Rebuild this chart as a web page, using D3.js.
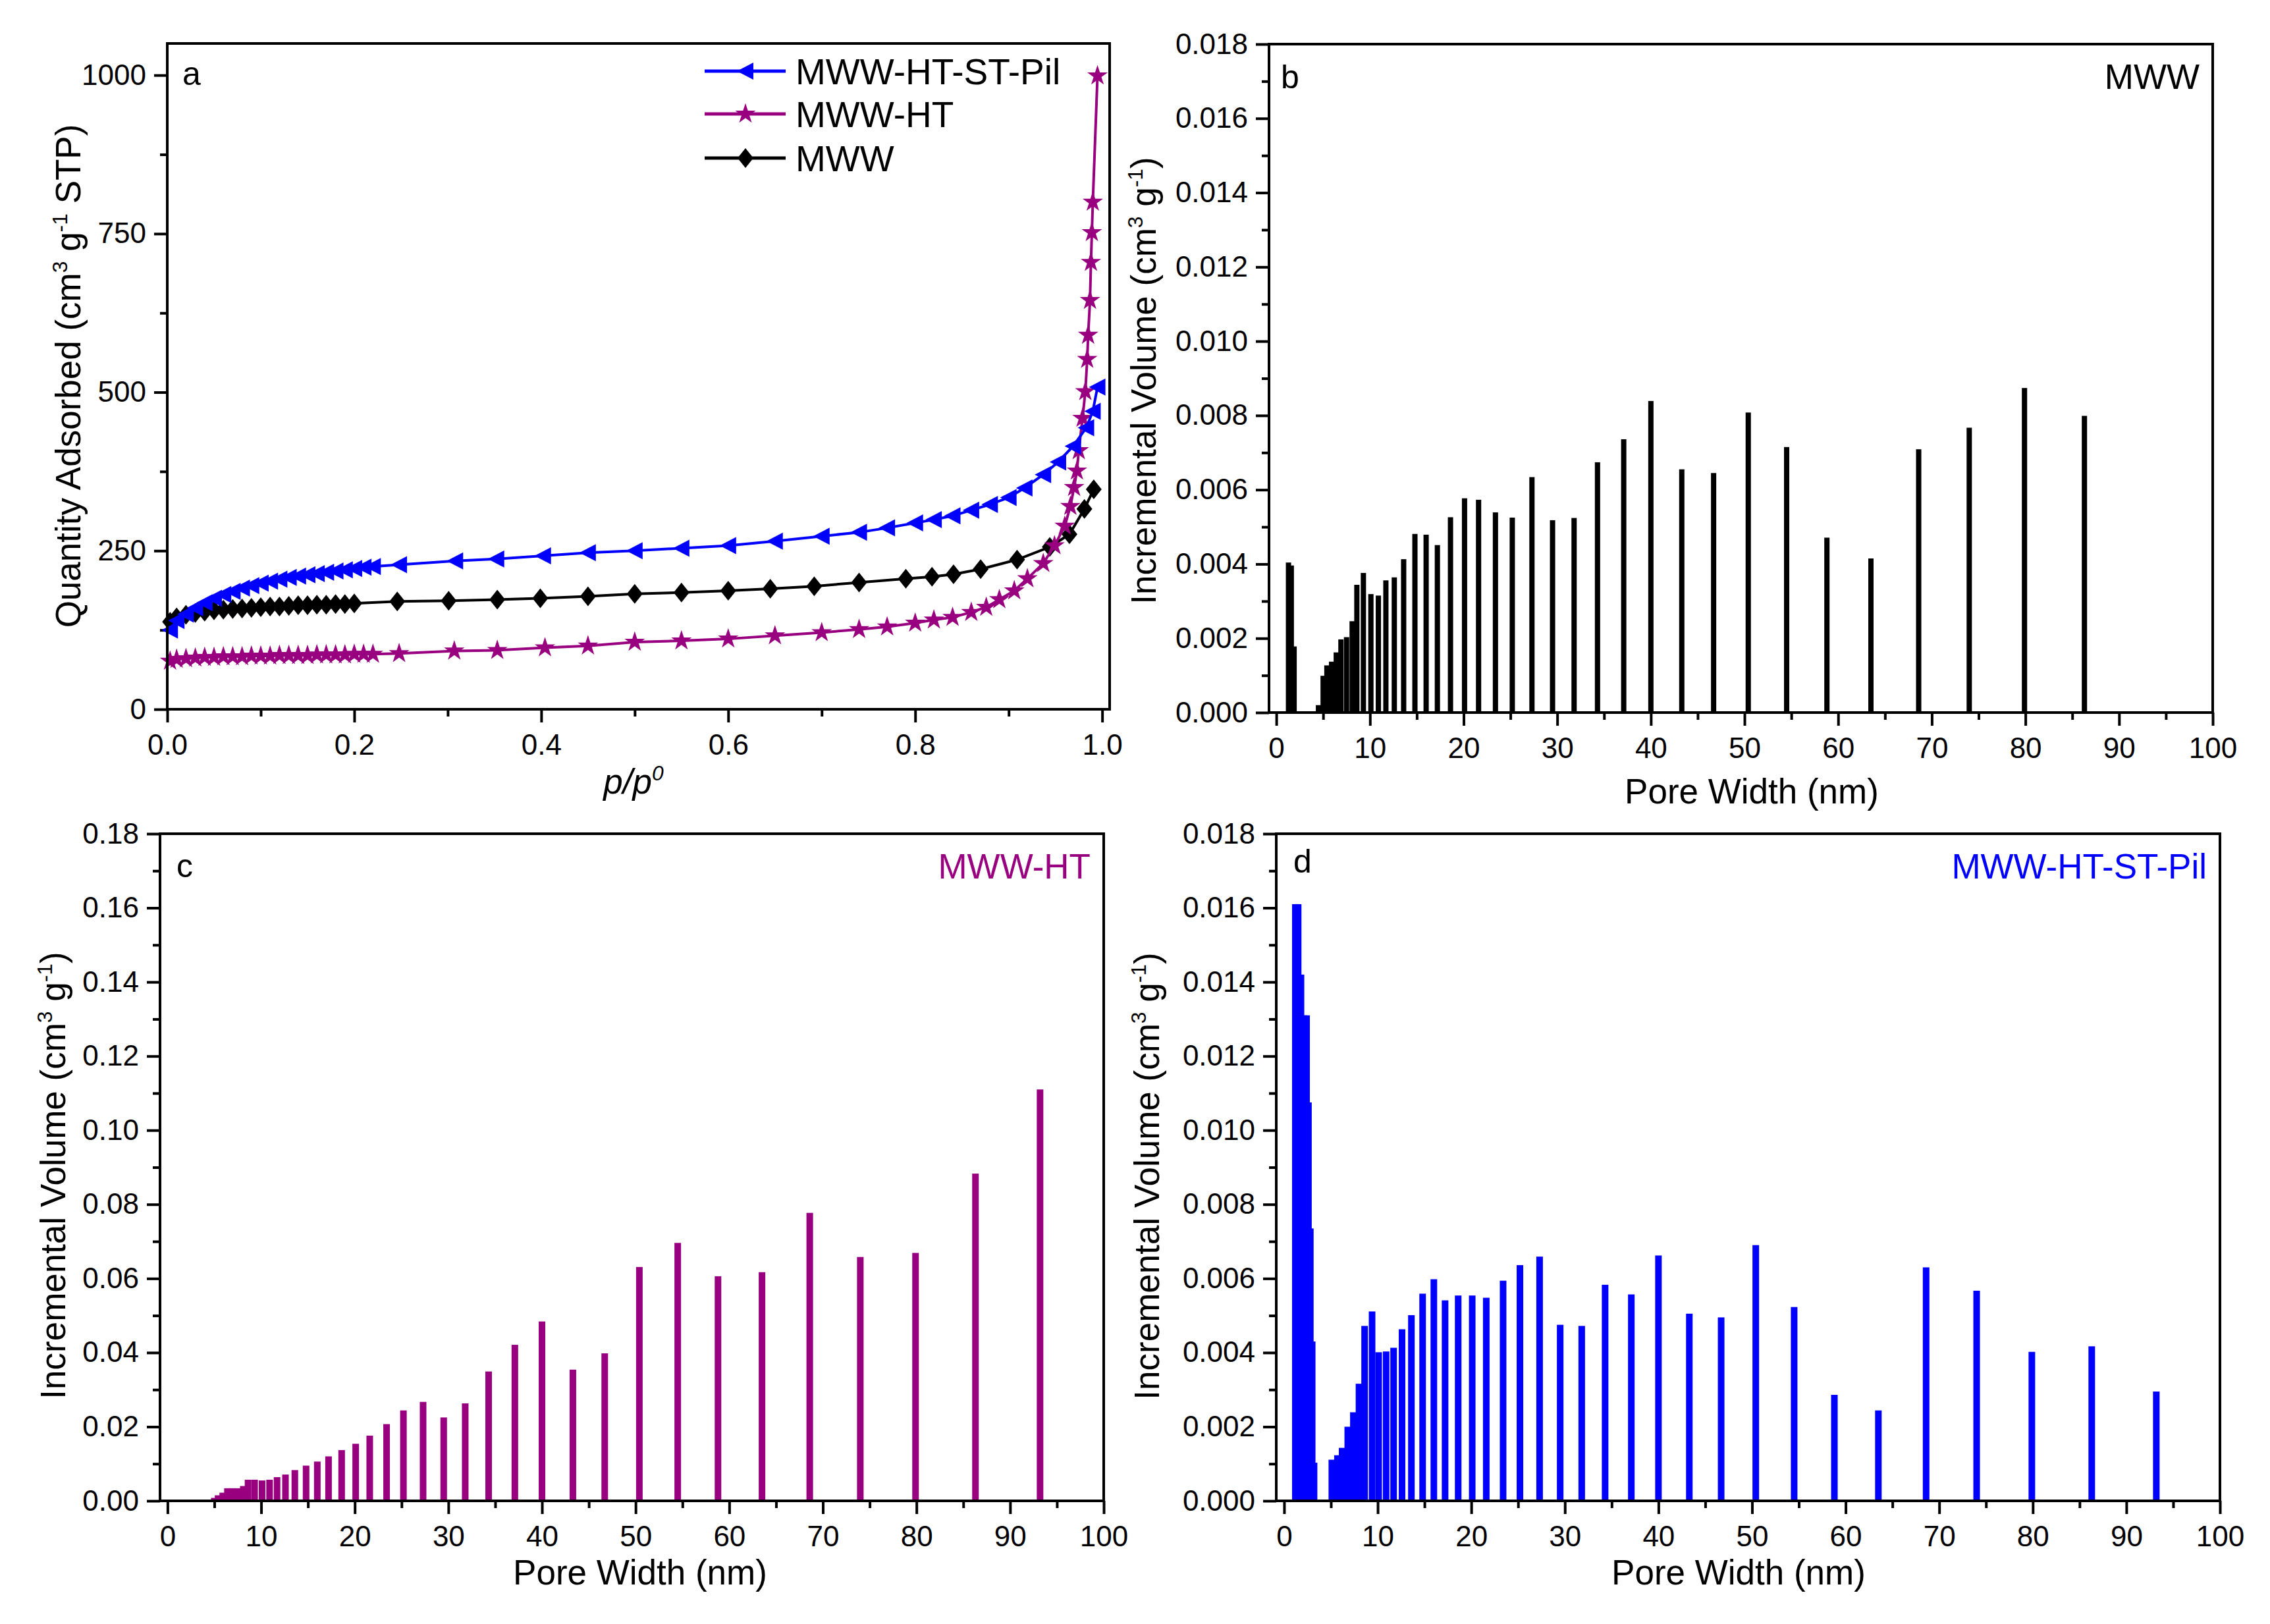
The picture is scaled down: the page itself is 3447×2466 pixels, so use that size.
<!DOCTYPE html>
<html><head><meta charset="utf-8">
<script src="https://cdn.jsdelivr.net/npm/d3@7"></script>
<style>body{margin:0;background:#fff}</style>
</head><body><svg id="c" width="3447" height="2466"></svg>
<script>
// ---------- DATA ----------
// Panel a : isotherms (p/p0 , quantity adsorbed)
const pilP = [0.003,0.01,0.02,0.03,0.04,0.05,0.06,0.07,0.08,0.09,0.10,0.11,0.12,0.13,0.14,0.15,0.16,0.17,0.18,0.19,0.20,0.21,0.22,0.248,0.308,0.352,0.402,0.45,0.50,0.55,0.60,0.65,0.70,0.74,0.77,0.80,0.82,0.84,0.86,0.88,0.90,0.917,0.937,0.953,0.969,0.983,0.990,0.995];
const pilV = [125,140,150,160,168,175,181,186,191,195,199,202,205,208,210,212,214,216,218,220,222,224,225,228,234,237,242,247,250,254,258,265,273,279,286,294,299,305,314,323,334,349,370,390,415,444,470,508];
const htP = [0.003,0.01,0.02,0.03,0.04,0.05,0.06,0.07,0.08,0.09,0.10,0.11,0.12,0.13,0.14,0.15,0.16,0.17,0.18,0.19,0.20,0.21,0.22,0.248,0.307,0.353,0.404,0.45,0.50,0.55,0.60,0.65,0.70,0.74,0.77,0.80,0.82,0.84,0.86,0.876,0.89,0.906,0.92,0.937,0.949,0.960,0.966,0.970,0.973,0.975,0.979,0.982,0.984,0.985,0.987,0.988,0.989,0.990,0.995];
const htV = [76,79,80,81,82,82,83,83,83,84,84,84,85,85,85,85,86,86,86,86,87,87,87,88,92,93,97,100,106,108,111,116,121,126,130,136,141,145,153,161,173,187,206,230,258,289,320,350,376,408,459,501,552,590,645,705,752,800,999];
const mwwP = [0.003,0.01,0.02,0.03,0.04,0.05,0.06,0.07,0.08,0.09,0.10,0.11,0.12,0.13,0.14,0.15,0.16,0.17,0.18,0.19,0.20,0.246,0.301,0.353,0.399,0.45,0.50,0.55,0.60,0.645,0.692,0.74,0.79,0.818,0.841,0.87,0.909,0.944,0.965,0.981,0.991];
const mwwV = [138,145,149,152,154,156,157,158,159,160,161,162,162,163,164,164,165,165,166,166,167,170,171,173,175,178,182,184,187,190,194,200,206,209,213,221,236,256,276,316,347];
const legendNames = ["MWW-HT-ST-Pil","MWW-HT","MWW"];

// Panel b : MWW pore size distribution
const bWidth = [1.3,1.6,1.9,4.5,5.0,5.4,5.9,6.4,6.9,7.5,8.1,8.6,9.3,10.1,10.9,11.7,12.6,13.6,14.8,16.0,17.2,18.6,20.1,21.6,23.4,25.2,27.3,29.5,31.8,34.3,37.1,40.0,43.3,46.7,50.4,54.5,58.8,63.5,68.6,74.0,79.9,86.3];
const bVol = [.00404,.00396,.00178,.0002,.00099,.00127,.00137,.00162,.00197,.00203,.00246,.00344,.00376,.00319,.00315,.00356,.00364,.00413,.00481,.00479,.00451,.00526,.00577,.00573,.00539,.00525,.00634,.00518,.00524,.00674,.00736,.00839,.00655,.00645,.00808,.00715,.00471,.00415,.00709,.00767,.00874,.00799];

// Panel c : MWW-HT
const cWidth = [5.0,5.4,5.9,6.4,6.9,7.5,8.1,8.6,9.3,10.1,10.9,11.7,12.6,13.6,14.8,16.0,17.2,18.6,20.1,21.6,23.4,25.2,27.3,29.5,31.8,34.3,37.1,40.0,43.3,46.7,50.4,54.5,58.8,63.5,68.6,74.0,79.9,86.3,93.2];
const cVol = [.0008,.0015,.0022,.0034,.0034,.0034,.0040,.0057,.0057,.0055,.0057,.0064,.0071,.0083,.0095,.0106,.0120,.0137,.0154,.0176,.0207,.0244,.0267,.0225,.0263,.0349,.0421,.0484,.0354,.0398,.0631,.0696,.0606,.0617,.0777,.0658,.0669,.0883,.111];

// Panel d : MWW-HT-ST-Pil
const dWidth = [1.2,1.5,1.8,2.1,2.4,2.6,2.8,3.0,3.2,5.1,5.7,6.2,6.8,7.4,8.0,8.6,9.4,10.1,10.9,11.7,12.6,13.6,14.8,16.0,17.2,18.6,20.1,21.6,23.4,25.2,27.3,29.5,31.8,34.3,37.1,40.0,43.3,46.7,50.4,54.5,58.8,63.5,68.6,74.0,79.9,86.3,93.2];
const dVol = [.0161,.0161,.0142,.0131,.0131,.01075,.00735,.0043,.00103,.00111,.00123,.00143,.0020,.00239,.00316,.00472,.00511,.00401,.00403,.00413,.00463,.00501,.00559,.00598,.00541,.00554,.00554,.00548,.00594,.00636,.00659,.00475,.00472,.00583,.00557,.00662,.00505,.00495,.0069,.00523,.00286,.00244,.0063,.00567,.00402,.00417,.00295];

// tick values
const aXTicks = [0,0.2,0.4,0.6,0.8,1.0], aXMinor = [0.1,0.3,0.5,0.7,0.9];
const aYTicks = [0,250,500,750,1000], aYMinor = [125,375,625,875];
const pwTicks = [0,10,20,30,40,50,60,70,80,90,100], pwMinor = [5,15,25,35,45,55,65,75,85,95];
const smallYTicks = [0,.002,.004,.006,.008,.010,.012,.014,.016,.018], smallYMinor = [.001,.003,.005,.007,.009,.011,.013,.015,.017];
const cYTicks = [0,.02,.04,.06,.08,.10,.12,.14,.16,.18], cYMinor = [.01,.03,.05,.07,.09,.11,.13,.15,.17];

// ---------- DRAW ----------
const FONT = '"Liberation Sans", Arial, sans-serif';
const BLUE = '#0000ff', PURPLE = '#990080', BLACK = '#000000';
const svg = d3.select('#c');
svg.append('rect').attr('width',3447).attr('height',2466).attr('fill','#fff');

const PA = {l:254, r:1685, t:66, b:1077};
const PB = {l:1927, r:3360, t:67, b:1082};
const PC = {l:243, r:1676, t:1266, b:2279};
const PD = {l:1938, r:3371, t:1266, b:2279};

function axes(P, x, y, xMaj, xMin, yMaj, yMin, xFmt, yFmt){
  const g = svg.append('g');
  const ax = g.append('g').attr('transform',`translate(0,${P.b})`);
  ax.append('g').call(d3.axisBottom(x).tickValues(xMin).tickSize(11).tickFormat(''));
  ax.append('g').call(d3.axisBottom(x).tickValues(xMaj).tickSize(20).tickPadding(18).tickFormat(xFmt));
  const ay = g.append('g').attr('transform',`translate(${P.l},0)`);
  ay.append('g').call(d3.axisLeft(y).tickValues(yMin).tickSize(11).tickFormat(''));
  ay.append('g').call(d3.axisLeft(y).tickValues(yMaj).tickSize(20).tickPadding(12).tickFormat(yFmt));
  g.selectAll('.domain').remove();
  g.selectAll('.tick line').attr('stroke','#000').attr('stroke-width',4);
  g.selectAll('.tick text').attr('font-size',44).attr('font-family',FONT).attr('fill','#000');
}
function frame(P){
  svg.append('rect').attr('x',P.l).attr('y',P.t).attr('width',P.r-P.l).attr('height',P.b-P.t)
    .attr('fill','none').attr('stroke','#000').attr('stroke-width',4);
}
function rich(x, y, parts, opts){
  const t = svg.append('text').attr('font-family',FONT).attr('font-size',opts.size||53)
    .attr('fill',opts.fill||'#000').attr('text-anchor',opts.anchor||'middle');
  if(opts.rotate) t.attr('transform',`translate(${x},${y}) rotate(-90)`);
  else t.attr('x',x).attr('y',y);
  if(opts.italic) t.attr('font-style','italic');
  parts.forEach(p=>{
    const s = t.append('tspan').text(p.t);
    if(p.sup){ s.attr('font-size',(opts.size||53)*0.6).attr('dy',-20); }
    else if(p.after){ s.attr('dy',20); }
  });
  return t;
}
function label(x,y,txt,size,fill,anchor){
  svg.append('text').attr('x',x).attr('y',y).attr('font-family',FONT).attr('font-size',size)
    .attr('fill',fill||'#000').attr('text-anchor',anchor||'start').text(txt);
}

// ---- Panel a ----
{
  const x = d3.scaleLinear().domain([0,1.008]).range([PA.l,PA.r]);
  const y = d3.scaleLinear().domain([0,1050]).range([PA.b,PA.t]);
  axes(PA,x,y,aXTicks,aXMinor,aYTicks,aYMinor,d3.format('.1f'),d3.format('d'));
  const line = d3.line().x(d=>x(d[0])).y(d=>y(d[1]));
  const tri = 'M-13,0L12,-13L12,13Z';
  const dia = 'M0,-15L12,0L0,15L-12,0Z';
  const star = d3.symbol(d3.symbolStar,300)();
  const series = [
    {p:mwwP,v:mwwV,c:BLACK,m:dia},
    {p:htP,v:htV,c:PURPLE,m:star},
    {p:pilP,v:pilV,c:BLUE,m:tri}
  ];
  series.forEach(s=>{
    const pts = s.p.map((p,i)=>[p,s.v[i]]);
    svg.append('path').attr('d',line(pts)).attr('fill','none').attr('stroke',s.c).attr('stroke-width',4);
    svg.append('g').selectAll('path').data(pts).join('path')
      .attr('d',s.m).attr('transform',d=>`translate(${x(d[0])},${y(d[1])})`).attr('fill',s.c);
  });
  // legend
  const rows = [{c:BLUE,m:tri,y:108},{c:PURPLE,m:star,y:173},{c:BLACK,m:dia,y:240}];
  rows.forEach((r,i)=>{
    svg.append('line').attr('x1',1070).attr('x2',1193).attr('y1',r.y).attr('y2',r.y).attr('stroke',r.c).attr('stroke-width',5);
    svg.append('path').attr('d',r.m).attr('transform',`translate(1132,${r.y})`).attr('fill',r.c);
    label(1208, r.y+20, legendNames[i], 55, '#000');
  });
  label(277,129,'a',50,'#000');
  rich(122,571,[{t:'Quantity Adsorbed (cm'},{t:'3',sup:true},{t:' g',after:true},{t:'-1',sup:true},{t:' STP)',after:true}],{rotate:true,size:53});
  rich(962,1205,[{t:'p/p'},{t:'0',sup:true}],{italic:true,size:53});
  frame(PA);
}

function barPanel(P, xd, yd, W, V, color, bw, yTicks, yMinor, yFmt, letter, letterPos, name, nameFill, titleX, titleY, yTitleX, yTitleY){
  const x = d3.scaleLinear().domain(xd).range([P.l,P.r]);
  const y = d3.scaleLinear().domain(yd).range([P.b,P.t]);
  axes(P,x,y,pwTicks,pwMinor,yTicks,yMinor,d3.format('d'),yFmt);
  svg.append('g').selectAll('rect').data(W.map((w,i)=>[w,V[i]])).join('rect')
    .attr('x',d=>x(d[0])-bw/2).attr('width',bw)
    .attr('y',d=>y(d[1])).attr('height',d=>y(0)-y(d[1])).attr('fill',color);
  label(letterPos[0],letterPos[1],letter,50,'#000');
  label(P.r-20, P.t+68, name, 53, nameFill, 'end');
  label(titleX, titleY, 'Pore Width (nm)', 53, '#000', 'middle');
  rich(yTitleX, yTitleY, [{t:'Incremental Volume (cm'},{t:'3',sup:true},{t:' g',after:true},{t:'-1',sup:true},{t:')',after:true}],{rotate:true,size:53});
  frame(P);
}

barPanel(PB,[-0.78,100],[0,0.018],bWidth,bVol,BLACK,8,smallYTicks,smallYMinor,d3.format('.3f'),'b',[1945,134],'MWW','#000',2660,1220,1755,578);
barPanel(PC,[-0.8,100],[0,0.18],cWidth,cVol,PURPLE,10,cYTicks,cYMinor,d3.format('.2f'),'c',[268,1332],'MWW-HT',PURPLE,972,2406,99,1785);
barPanel(PD,[-0.84,100],[0,0.018],dWidth,dVol,BLUE,10,smallYTicks,smallYMinor,d3.format('.3f'),'d',[1964,1325],'MWW-HT-ST-Pil',BLUE,2640,2406,1760,1786);
</script>
</body></html>
